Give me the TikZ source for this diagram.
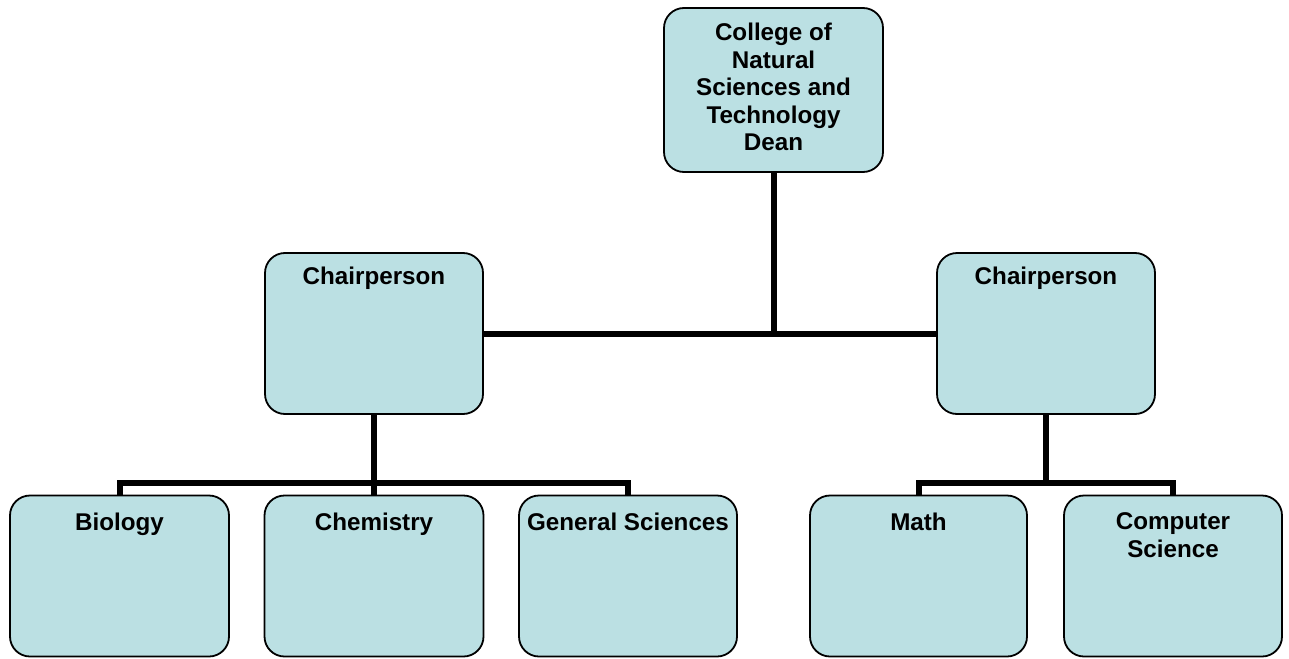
\documentclass[tikz,border=0pt]{standalone}
\usepackage{fontspec}
\setmainfont{Liberation Sans}
\usetikzlibrary{backgrounds}
\definecolor{boxfill}{RGB}{187,224,227}
\begin{document}
\begin{tikzpicture}[x=1pt,y=-1pt,
  unit/.style={draw=black, line width=1.8pt, fill=boxfill, rounded corners=20pt,
    minimum width=218pt, inner sep=0pt},
  tall/.style={unit, minimum height=161pt},
  caption/.style={anchor=north, inner sep=0pt, align=center,
    font=\fontsize{24.2}{27.5}\bfseries},
  link/.style={draw=black, line width=6pt, line join=miter}]
  \useasboundingbox (0,0) rectangle (1289,658);

  % boxes
  \node[unit, minimum width=219pt, minimum height=164pt] (dean) at (773.5,90) {};
  \node[tall] (chairL) at (374,333.5) {};
  \node[tall] (chairR) at (1046,333.5) {};
  \node[tall, minimum width=219pt] (bio)  at (119.5,576) {};
  \node[tall, minimum width=219pt] (chem) at (374,576) {};
  \node[tall] (gen)  at (628,576) {};
  \node[tall, minimum width=217pt] (math) at (918.5,576) {};
  \node[tall] (cs)   at (1173,576) {};

  % captions
  \node[caption] (tdean) at ([yshift=-16pt]dean.north) {College of\\Natural\\Sciences and\\Technology\\Dean};
  \node[caption] (tchairL) at ([yshift=-15pt]chairL.north) {Chairperson};
  \node[caption] (tchairR) at ([yshift=-15pt]chairR.north) {Chairperson};
  \node[caption] (tbio) at ([yshift=-18pt]bio.north) {Biology};
  \node[caption] (tchem) at ([yshift=-18pt]chem.north) {Chemistry};
  \node[caption] (tgen) at ([yshift=-18pt]gen.north) {General Sciences};
  \node[caption] (tmath) at ([yshift=-18pt]math.north) {Math};
  \node[caption] (tcs) at ([yshift=-18pt]cs.north) {Computer\\Science};

  % connectors
  \coordinate (busL) at (374,483);
  \coordinate (busR) at (1046,483);
  \begin{scope}[on background layer]
    \draw[link] (chairL.east) -- (chairR.west);
    \draw[link] (dean.south) -- (dean.south |- chairL.east);
    \draw[link] (chairL.south) -- (chem.north);
    \draw[link] (bio.north) |- (busL) -| (gen.north);
    \draw[link] (chairR.south) -- (busR);
    \draw[link] (math.north) |- (busR) -| (cs.north);
  \end{scope}
\end{tikzpicture}
\end{document}
